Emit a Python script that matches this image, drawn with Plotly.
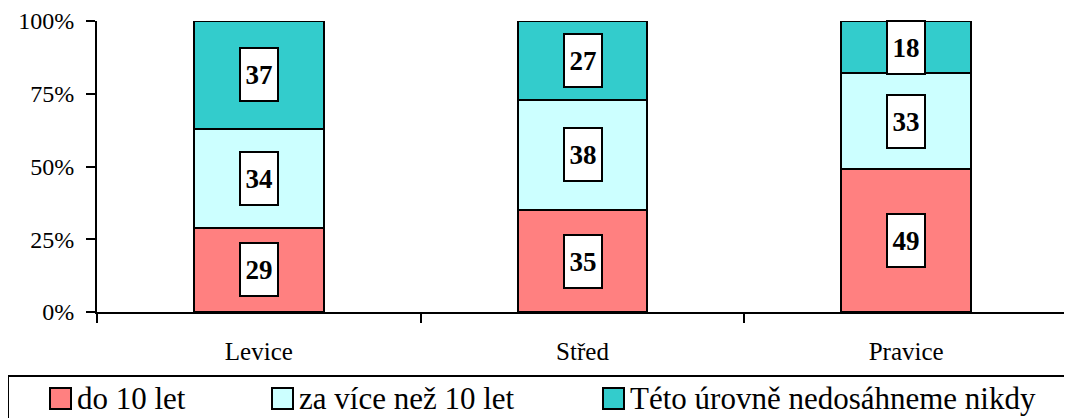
import plotly.graph_objects as go

categories = ["Levice", "Střed", "Pravice"]
series_names = ["do 10 let", "za více než 10 let", "Této úrovně nedosáhneme nikdy"]
do_10_let = [29, 35, 49]
za_vice_nez_10 = [34, 38, 33]
nikdy = [37, 27, 18]
colors = ["#FF8080", "#CCFFFF", "#33CCCC"]
y_ticks = [0, 25, 50, 75, 100]
y_tick_labels = ["0%", "25%", "50%", "75%", "100%"]

FONT = "Liberation Serif"
series = [do_10_let, za_vice_nez_10, nikdy]

# the page has an 8px body margin: the figure is drawn at (8, 8)
OFF = 8
W, H = 1072 - OFF, 418 - OFF
L, R, T, B = 97 - OFF, 4, 21 - OFF, 418 - 312
pw = W - L - R
ph = H - T - B

def px_x(px):  # reference page pixel -> paper x
    return (px - OFF - L) / pw

def px_y(py):  # reference page pixel -> paper y
    return (H - B - (py - OFF)) / ph

fig = go.Figure()
for name, vals, col in zip(series_names, series, colors):
    fig.add_trace(go.Bar(
        x=categories, y=vals, name=name, showlegend=False,
        marker=dict(color=col, line=dict(color="black", width=2)),
        hoverinfo="skip",
    ))

# data labels in white boxes
annotations = []
for ci, cat in enumerate(categories):
    base = 0
    for vals in series:
        v = vals[ci]
        annotations.append(dict(
            x=cat, y=base + v / 2, xref="x", yref="y", text="<b>%d</b>" % v,
            showarrow=False, font=dict(family=FONT, size=27, color="black"),
            bgcolor="white", bordercolor="black", borderwidth=2, borderpad=0,
            width=36, height=51, align="center", valign="middle",
        ))
        base += v

# legend (drawn manually for exact placement)
shapes = [dict(type="rect", xref="paper", yref="paper",
               x0=px_x(8), x1=px_x(1100), y0=px_y(376), y1=px_y(450),
               line=dict(color="black", width=2), fillcolor="rgba(0,0,0,0)")]
legend_sq_px = [50, 272, 603]
for name, col, sx in zip(series_names, colors, legend_sq_px):
    shapes.append(dict(type="rect", xref="paper", yref="paper",
                       x0=px_x(sx), x1=px_x(sx + 21), y0=px_y(409), y1=px_y(388),
                       line=dict(color="black", width=2), fillcolor=col))
    annotations.append(dict(
        x=px_x(sx + 25), y=px_y(398), xref="paper", yref="paper",
        xanchor="left", yanchor="middle", text=name, showarrow=False,
        font=dict(family=FONT, size=31, color="black"),
    ))

fig.update_layout(
    width=W, height=H,
    margin=dict(l=L, r=R, t=T, b=B, autoexpand=False),
    barmode="stack", bargap=0.6,
    plot_bgcolor="white", paper_bgcolor="white",
    font=dict(family=FONT, color="black"),
    showlegend=False,
    annotations=annotations,
    shapes=shapes,
)
fig.update_yaxes(
    range=[0, 100], tickvals=y_ticks, ticktext=y_tick_labels,
    showgrid=False, zeroline=False, showline=True, linecolor="black", linewidth=2,
    ticks="outside", ticklen=9, tickwidth=2, tickcolor="black",
    ticklabelstandoff=7,
    tickfont=dict(family=FONT, size=24, color="black"),
)
fig.update_xaxes(
    showgrid=False, showline=True, linecolor="black", linewidth=2,
    ticks="outside", ticklen=9, tickwidth=2, tickcolor="black", tickson="boundaries",
    ticklabelstandoff=16,
    tickfont=dict(family=FONT, size=25, color="black"),
)

fig.write_html("out.html")
